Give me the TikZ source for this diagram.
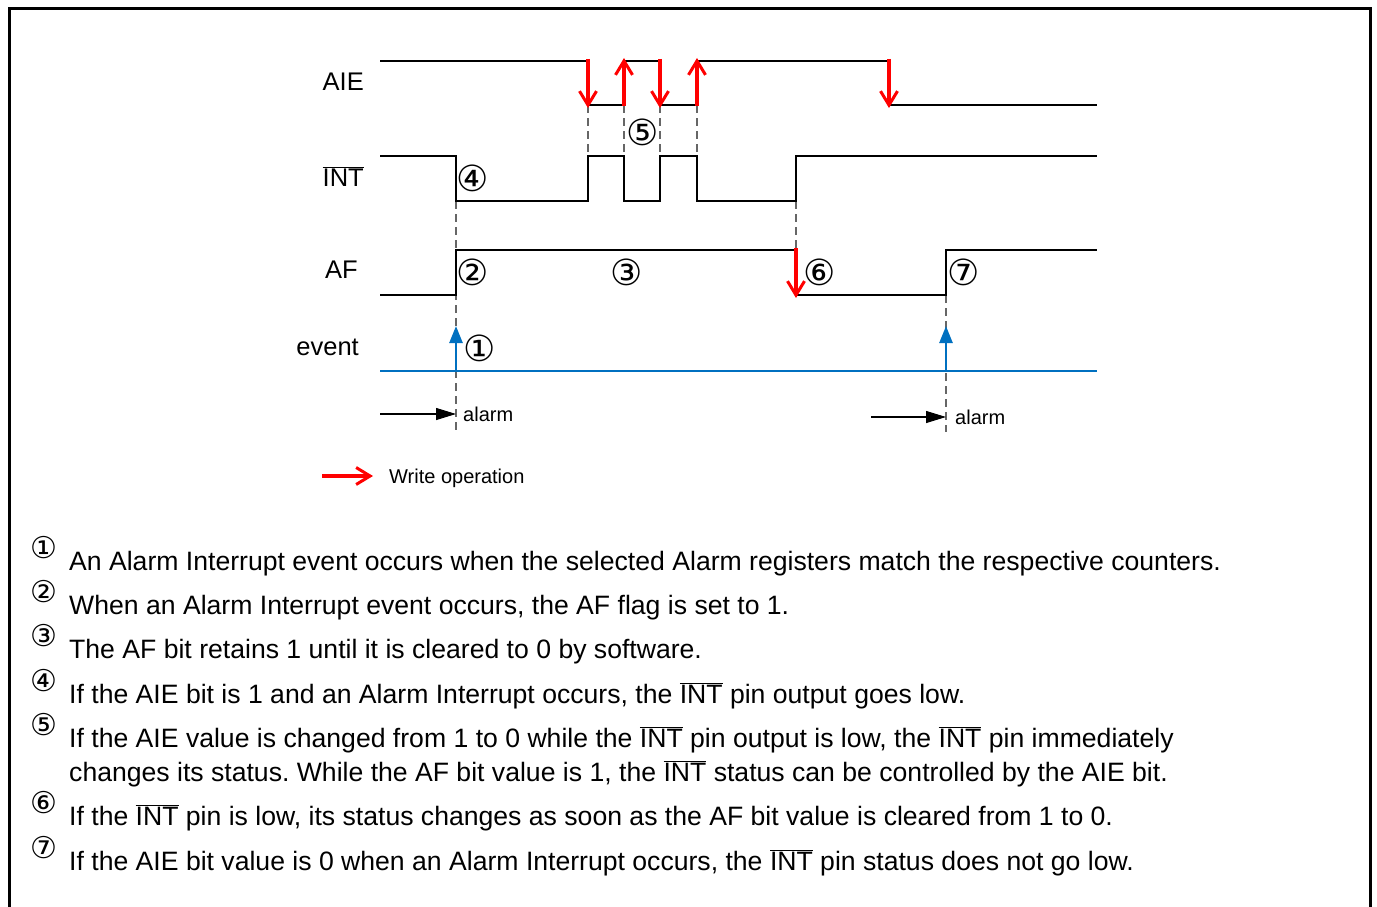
\documentclass[tikz,border=0pt]{standalone}
\usepackage{fontspec}
\setmainfont{Liberation Sans}
\newfontfamily\circfont{DejaVu Sans}
\usetikzlibrary{arrows.meta}
\newcommand\ovl[1]{$\overline{\hbox{#1}}$}
\frenchspacing
\begin{document}
\begin{tikzpicture}[x=1pt,y=-1pt,
  sig/.style={line width=2.5pt, line join=miter, line cap=butt},
  wr/.style={red, line width=3.2pt, -{Straight Barb[length=14pt,width=17pt,line width=3pt]}},
  ev/.style={color={rgb,255:red,0;green,112;blue,192}, line width=2.5pt},
  evarr/.style={ev, -{Triangle[length=17pt,width=13pt]}},
  dsh/.style={gray!80!black, line width=1.3pt, dash pattern=on 8pt off 5pt},
  alarr/.style={line width=1.1pt, -{Triangle[length=20pt,width=12pt]}},
  sigl/.style={font=\fontsize{25.5}{28}\selectfont, anchor=base east, inner sep=0pt},
  circ/.style={font=\circfont\fontsize{36}{38}\selectfont, inner sep=0pt},
  ncirc/.style={font=\circfont\fontsize{30}{32}\selectfont, inner sep=0pt},
  small/.style={font=\fontsize{20}{22}\selectfont, anchor=base west, inner sep=0pt},
  body/.style={font=\fontsize{26.6}{30}\selectfont, anchor=base west, inner sep=0pt}]
\useasboundingbox (0,0) rectangle (1377,907);
\draw[line width=3pt] (9,920) -- (9,9) -- (1370,9) -- (1370,920);

% dashed guides
\draw[dsh] (456,201) -- (456,432);
\foreach \x in {588,624,660,697} \draw[dsh] (\x,105) -- (\x,156);
\draw[dsh] (796,201) -- (796,250);
\draw[dsh] (946,295) -- (946,432);

% AIE
\draw[sig] (380,61) -- (588,61) -- (588,105) -- (624,105) -- (624,61) -- (660,61) -- (660,105) -- (697,105) -- (697,61) -- (889,61) -- (889,105) -- (1097,105);
% INT
\draw[sig] (380,156) -- (456,156) -- (456,201) -- (588,201) -- (588,156) -- (624,156) -- (624,201) -- (660,201) -- (660,156) -- (697,156) -- (697,201) -- (796,201) -- (796,156) -- (1097,156);
% AF
\draw[sig] (380,295) -- (456,295) -- (456,250) -- (796,250) -- (796,295) -- (946,295) -- (946,250) -- (1097,250);
% event
\draw[ev] (380,371) -- (1097,371);
\draw[evarr] (456,371) -- (456,326);
\draw[evarr] (946,371) -- (946,326);

% write arrows
\foreach \x in {588,660,889} \draw[wr] (\x,59) -- (\x,108);
\foreach \x in {624,697} \draw[wr] (\x,106) -- (\x,58);
\draw[wr] (796,248) -- (796,298);

% alarm arrows
\coordinate (a1s) at (380,414); \coordinate (a1e) at (456,414);
\coordinate (a2s) at (871,417); \coordinate (a2e) at (946,417);
\draw[alarr] (a1s) -- (a1e);
\draw[alarr] (a2s) -- (a2e);
\node[small] (al1) at (463,421) {alarm};
\node[small] (al2) at (955,424) {alarm};

% signal labels
\node[sigl] (lAIE) at (364,91) {AIE};
\node[sigl] (lINT) at (364,186) {\ovl{INT}};
\node[sigl] (lAF) at (358,278) {AF};
\node[sigl] (lev) at (359,355) {event};

% circled numbers
\node[circ] (c4) at (473,178) {④};
\node[circ] (c5) at (643,132) {⑤};
\node[circ] (c2) at (473,272) {②};
\node[circ] (c3) at (627,272) {③};
\node[circ] (c6) at (820,272) {⑥};
\node[circ] (c7) at (964,272) {⑦};
\node[circ] (c1) at (480,348) {①};

% legend
\coordinate (lgs) at (322,476); \coordinate (lge) at (373,476);
\draw[wr] (lgs) -- (lge);
\node[small] (lgt) at (389,483) {Write operation};

% notes
\foreach \n/\y in {①/548,②/592,③/636,④/681,⑤/725,⑥/803,⑦/848}
  \node[ncirc] at (44,\y) {\n};
\node[body] (t1) at (69,570) {An Alarm Interrupt event occurs when the selected Alarm registers match the respective counters.};
\node[body] (t2) at (69,614) {When an Alarm Interrupt event occurs, the AF flag is set to 1.};
\node[body] (t3) at (69,658) {The AF bit retains 1 until it is cleared to 0 by software.};
\node[body] (t4) at (69,703) {If the AIE bit is 1 and an Alarm Interrupt occurs, the \ovl{INT} pin output goes low.};
\node[body] (t5) at (69,747) {If the AIE value is changed from 1 to 0 while the \ovl{INT} pin output is low, the \ovl{INT} pin immediately};
\node[body] (t5b) at (69,781) {changes its status. While the AF bit value is 1, the \ovl{INT} status can be controlled by the AIE bit.};
\node[body] (t6) at (69,825) {If the \ovl{INT} pin is low, its status changes as soon as the AF bit value is cleared from 1 to 0.};
\node[body] (t7) at (69,870) {If the AIE bit value is 0 when an Alarm Interrupt occurs, the \ovl{INT} pin status does not go low.};
\end{tikzpicture}
\end{document}
